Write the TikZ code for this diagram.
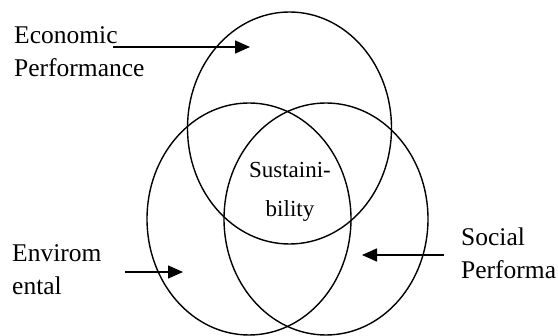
\documentclass[tikz,border=0pt]{standalone}
\usepackage{fontspec}
\setmainfont{Liberation Serif}
\usepackage{tikz}
\usetikzlibrary{arrows.meta, positioning, shapes.geometric}

\begin{document}
\begin{tikzpicture}[
    x=1pt, y=1pt,
    ring/.style={ellipse, draw, line width=1.4pt, minimum width=204pt, minimum height=232pt, inner sep=0pt},
    tag/.style={font=\fontsize{25.5}{33}\selectfont, align=left, inner sep=0pt},
    core/.style={font=\fontsize{23}{39}\selectfont, align=center, inner sep=0pt},
    arrow/.style={-{Triangle[length=15pt, width=13pt]}, line width=1.6pt},
]
\useasboundingbox (0,0) rectangle (558,-336);

% the three rings
\node[ring] (econ)  at (289.5,-128) {};
\node[ring] (envir) at (249,-219) {};
\node[ring] (soc)   at (326,-219) {};

\node[core] (sust) at (290,-192) {Sustaini-\\bility};

% labels and pointers
\node[tag, anchor=west] (econlbl) at (14,-52)  {Economic\\Performance};
\node[tag, anchor=west] (envlbl)  at (12,-270) {Envirom\\ental};
\node[tag, anchor=west] (soclbl)  at (461,-253) {Social\\Performa};

\coordinate (econfrom) at (113,-47);
\coordinate (econtip)  at (250,-47);
\coordinate (envfrom)  at (125,-272);
\coordinate (envtip)   at (183,-272);
\coordinate (socfrom)  at (444,-255);
\coordinate (soctip)   at (362,-255);

\draw[arrow] (econfrom) -- (econtip);
\draw[arrow] (envfrom)  -- (envtip);
\draw[arrow] (socfrom)  -- (soctip);

\end{tikzpicture}
\end{document}
